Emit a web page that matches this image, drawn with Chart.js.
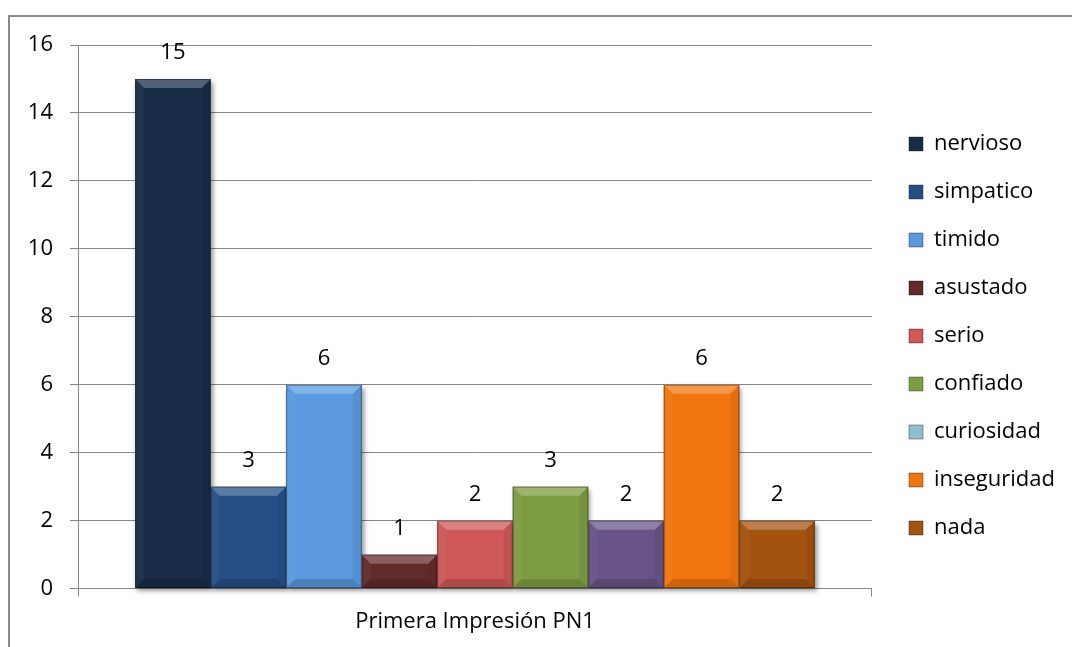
<!DOCTYPE html>
<html><head><meta charset="utf-8">
<script src="https://cdn.jsdelivr.net/npm/chart.js@4.4.0/dist/chart.umd.min.js"></script>
<style>html,body{margin:0;padding:0;background:#fff}#wrap{width:1072px;height:647px;position:relative}</style>
</head><body><div id="wrap"><canvas id="c" width="1072" height="647"></canvas></div>
<script>
const categories = ['Primera Impresión PN1'];
const seriesNames = ['nervioso','simpatico','timido','asustado','serio','confiado','curiosidad','inseguridad','nada'];
const seriesValues = [15, 3, 6, 1, 2, 3, 2, 6, 2];
const barColors = ['#182C48','#254F85','#5A98DF','#632A2A','#CD5857','#7E9C41','#685488','#F1750F','#A4520F'];
const legendColors = ['#182C48','#254F85','#5A98DF','#632A2A','#CD5857','#7E9C41','#8CC0D0','#F1750F','#A4520F'];
const yTicks = [0, 2, 4, 6, 8, 10, 12, 14, 16];

const FONT = '"Open Sans", Lato, sans-serif';
const FS = 22;

const framePlugin = {
  id: 'frame',
  beforeDraw(chart) {
    const ctx = chart.ctx;
    ctx.save();
    ctx.fillStyle = '#fff';
    ctx.fillRect(0, 0, chart.width, chart.height);
    ctx.strokeStyle = '#888888';
    ctx.lineWidth = 2;
    ctx.beginPath();
    ctx.moveTo(9, chart.height);
    ctx.lineTo(9, 16);
    ctx.lineTo(chart.width, 16);
    ctx.stroke();
    ctx.restore();
  }
};

// nudge legend box (gap to plot area and vertical centring)
const legendShift = {
  id: 'legendShift',
  afterLayout(chart) {
    const lg = chart.legend;
    if (!lg) return;
    lg.left += 11; lg.right += 11;
    lg.top -= 10; lg.bottom -= 10;
  }
};

function barRect(el) {
  const p = el.getProps(['x', 'y', 'base', 'width'], true);
  return { l: p.x - p.width / 2, r: p.x + p.width / 2, t: Math.min(p.y, p.base), b: Math.max(p.y, p.base) };
}

const bevelPlugin = {
  id: 'bevel',
  beforeDatasetsDraw(chart) {
    const ctx = chart.ctx;
    ctx.save();
    chart.data.datasets.forEach((ds, i) => {
      const meta = chart.getDatasetMeta(i);
      meta.data.forEach(el => {
        const r = barRect(el);
        ctx.shadowColor = 'rgba(0,0,0,0.45)';
        ctx.shadowBlur = 5;
        ctx.shadowOffsetX = 2;
        ctx.shadowOffsetY = 3;
        ctx.fillStyle = '#888';
        ctx.fillRect(r.l, r.t, r.r - r.l, r.b - r.t);
      });
    });
    ctx.restore();
  },
  afterDatasetsDraw(chart) {
    const ctx = chart.ctx;
    ctx.save();
    chart.data.datasets.forEach((ds, i) => {
      const meta = chart.getDatasetMeta(i);
      meta.data.forEach((el, j) => {
        const r = barRect(el);
        const s = Math.min(9, (r.b - r.t) / 2, (r.r - r.l) / 2);
        const poly = (pts, fill) => {
          ctx.beginPath();
          ctx.moveTo(pts[0][0], pts[0][1]);
          for (let k = 1; k < pts.length; k++) ctx.lineTo(pts[k][0], pts[k][1]);
          ctx.closePath();
          ctx.fillStyle = fill;
          ctx.fill();
        };
        poly([[r.l, r.t], [r.r, r.t], [r.r - s, r.t + s], [r.l + s, r.t + s]], 'rgba(255,255,255,0.25)');
        poly([[r.l, r.t], [r.l + s, r.t + s], [r.l + s, r.b - s], [r.l, r.b]], 'rgba(255,255,255,0.04)');
        poly([[r.r, r.t], [r.r - s, r.t + s], [r.r - s, r.b - s], [r.r, r.b]], 'rgba(0,0,0,0.06)');
        poly([[r.l, r.b], [r.l + s, r.b - s], [r.r - s, r.b - s], [r.r, r.b]], 'rgba(0,0,0,0.15)');
        ctx.strokeStyle = 'rgba(0,0,0,0.35)';
        ctx.lineWidth = 1;
        ctx.strokeRect(r.l + 0.5, r.t + 0.5, r.r - r.l - 1, r.b - r.t - 1);
        ctx.fillStyle = '#000';
        ctx.font = FS + 'px ' + FONT;
        ctx.textAlign = 'center';
        ctx.textBaseline = 'middle';
        ctx.fillText(String(ds.data[j]), (r.l + r.r) / 2, r.t - 26);
      });
    });
    ctx.restore();
  }
};

const datasets = seriesNames.map((name, i) => ({
  label: name,
  data: [seriesValues[i]],
  backgroundColor: barColors[i],
  borderWidth: 0,
  categoryPercentage: 0.856,
  barPercentage: 1.0
}));

new Chart(document.getElementById('c'), {
  type: 'bar',
  data: { labels: categories, datasets },
  options: {
    responsive: false,
    animation: false,
    devicePixelRatio: 1,
    layout: { padding: { left: 10, top: 45, right: 18, bottom: 0 } },
    plugins: {
      tooltip: { enabled: false },
      legend: {
        position: 'right',
        labels: {
          boxWidth: 14,
          boxHeight: 14,
          padding: 26,
          color: '#000',
          font: { family: FONT, size: FS },
          generateLabels(chart) {
            const items = Chart.defaults.plugins.legend.labels.generateLabels(chart);
            return items.map((it, k) => Object.assign(it, {
              fillStyle: legendColors[k],
              strokeStyle: 'rgba(0,0,0,0.35)',
              lineWidth: 1
            }));
          }
        }
      }
    },
    scales: {
      x: {
        grid: { offset: true, drawOnChartArea: false, tickLength: 8, color: '#868686' },
        border: { color: '#868686' },
        ticks: { color: '#000', font: { family: FONT, size: FS }, padding: 12 }
      },
      y: {
        min: 0,
        max: 16,
        afterBuildTicks(scale) { scale.ticks = yTicks.map(v => ({ value: v })); },
        grid: { color: '#868686', tickLength: 8 },
        border: { color: '#868686' },
        ticks: { color: '#000', font: { family: FONT, size: FS }, padding: 17 },
        afterFit(scale) { scale.width = 68; }
      }
    }
  },
  plugins: [framePlugin, legendShift, bevelPlugin]
});
</script>
</body></html>
